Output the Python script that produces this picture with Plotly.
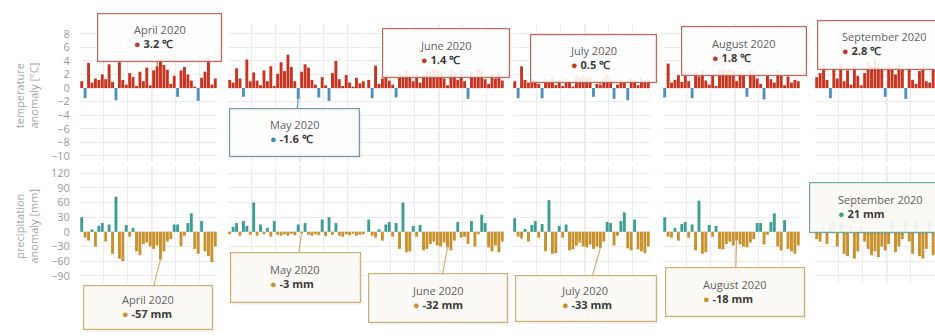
import plotly.graph_objects as go

# ---------------- data ----------------
months = ["April", "May", "June", "July", "August", "September"]
year = 2020

temp_april = [1.0, -1.5, 3.7, 0.8, 1.4, 1.2, 2.0, 1.3, 3.5, 0.9, -1.8, 3.8, 1.2, 0.5, 2.2, 1.6, 0.3, 2.4, 1.0, 3.0,
              0.4, 2.6, 3.2, 4.3, 3.4, 2.7, 0.6, 1.8, -1.3, 2.6, 3.1, 2.0, 1.1, 0.2, -1.9, 1.5, 2.4, 4.4, 0.5, 1.4]
temp_may = [1.2, 0.8, 2.9, 1.4, -1.3, 4.2, 1.0, 2.3, 1.1, 0.4, 2.6, 1.0, 3.2, 0.3, 2.1, 3.8, 2.5, 4.9, 3.1, 1.0,
            -1.6, 2.4, 3.5, 3.0, 1.2, 0.5, -1.4, 1.6, 0.4, -1.9, 2.2, 4.0, 1.3, 0.3, 1.9, 0.8, 0.2, 1.5, 0.7, 1.0]
temp_june = [1.2, -1.5, 3.3, 0.6, 1.4, 2.0, 1.1, 0.5, -1.4, 2.2, 1.8, 2.6, 1.5, 1.0, 2.2, 0.8, 1.9, 2.4, 2.5, 2.8,
             2.6, 2.3, 1.4, 0.4, 2.7, 2.4, 1.2, 2.6, 1.0, -1.6, 2.2, 1.6, 2.8, 2.5, 1.3, 0.6, 2.1, 1.4, 2.0, 1.1]
temp_july = [1.0, -1.5, 3.2, 1.2, 0.8, 1.4, 1.2, 0.6, -1.5, 1.3, 1.0, 1.5, 0.4, 1.2, 0.3, 1.4, 0.9, 0.2, 1.8, 1.6,
             1.9, 1.5, 1.7, -1.3, 0.6, 0.5, 1.6, 1.9, 1.3, -1.6, 0.5, 1.2, 0.9, -1.8, 1.4, 1.1, 0.4, 1.6, 1.2, 1.3]
temp_august = [-1.4, 3.6, 0.8, 1.2, 1.9, 0.9, 2.5, 1.0, -1.5, 2.3, 1.7, 2.6, 1.1, 0.5, 2.0, 0.3, 2.7, 2.9, 2.6, 2.8,
               2.4, 1.0, 2.2, 1.8, -1.3, 2.6, 2.5, 1.4, 0.6, -1.7, 2.0, 1.3, 0.8, 2.6, 1.9, 0.4, 1.7, 0.8, 1.2, 1.0]
temp_september = [1.6, 2.2, 3.4, 1.2, -1.5, 3.0, 1.4, 3.5, 1.0, 2.6, 0.5, 3.3, 1.8, 0.4, 2.2, 3.8, 3.1, 4.2, 3.6, 2.9,
                  -1.3, 3.4, 2.8, 2.0, 3.6, 2.7, -1.6, 3.1, 1.2, 0.6, 2.5, 3.3, 1.0, 0.8, 2.9, 1.9, 3.5, 1.3, 2.2, 1.0]

prec_april = [30, -12, -18, 5, -30, 12, 18, -20, 15, -45, 72, -55, -60, 14, -10, 8, -40, -48, -25, -22,
              -30, -35, -28, -57, -40, -20, -15, 15, 15, -30, -8, 18, 38, -35, -45, 22, -40, -50, -62, -30]
prec_may = [-5, 10, 18, -8, 22, 12, -6, 60, -8, 15, -5, 8, -10, 22, -6, -8, -5, -8, -4, -7,
            15, -3, 18, -6, -8, -5, -7, 25, -9, 30, -6, 18, -8, -10, -5, -7, -4, -8, -6, -5]
prec_june = [25, -8, -12, 5, -18, 15, 20, -10, 18, -35, 60, -42, -40, 12, -10, 14, -38, -35, -25, -20,
             -28, -30, -22, -32, -38, -18, 20, -12, -10, -25, 22, -30, -5, 35, 18, -32, -40, -28, -42, -20]
prec_july = [28, -10, -14, 6, -20, 14, 22, -12, 16, -40, 65, -45, -44, 12, -12, 15, -38, -36, -28, -22,
             -30, -32, -26, -35, -30, -33, -20, 20, 18, -28, -8, 22, 40, -34, -38, 25, -36, -40, -44, -30]
prec_august = [30, -10, -12, 8, -18, 16, 20, -12, 15, -38, 64, -45, -42, 14, -10, 12, -35, -36, -25, -20,
               -28, -18, -26, -30, -32, -22, -15, 18, 18, -26, -6, 20, 38, -30, -38, 24, -35, -40, -45, -28]
prec_september = [-15, -20, 10, -25, 15, 22, -30, 18, -45, -50, 12, -55, -40, 10, -20, -35, -48, -40, -52, -30,
                  -38, -25, 21, -42, -30, -15, 25, -20, -45, 20, -50, -55, -35, 22, -48, -58, -40, -50, -62, -30]

temp_series = [temp_april, temp_may, temp_june, temp_july, temp_august, temp_september]
prec_series = [prec_april, prec_may, prec_june, prec_july, prec_august, prec_september]

temp_tooltip = [3.2, -1.6, 1.4, 0.5, 1.8, 2.8]
prec_tooltip = [-57, -3, -32, -33, -18, 21]
temp_highlight = [22, 20, 22, 25, 23, 22]
prec_highlight = [23, 21, 23, 25, 21, 22]

temp_ticks = [8, 6, 4, 2, 0, -2, -4, -6, -8, -10]
prec_ticks = [120, 90, 60, 30, 0, -30, -60, -90]

# ---------------- layout geometry (pixels) ----------------
W, H = 935, 336
panel_left = [80, 228, 367, 513, 663, 815]
panel_w = 137
n_bars = len(temp_april)
FONT = "Open Sans"

temp_boxes = [(159.5, 37.5, 125, 49), (294.5, 132.5, 131, 49), (446, 53, 128, 50),
              (593.5, 58.5, 127, 49), (744, 51, 126, 50), (884, 45, 134, 50)]
prec_boxes = [(148, 307.5, 130, 45), (295, 277.5, 131, 51), (438, 298, 140, 50),
              (586, 298.5, 142, 47), (735, 292, 140, 50), (880, 207, 142, 51)]

rows = [
    dict(series=temp_series, top=24, bottom=163, rng=[-11.06, 9.44], ticks=temp_ticks,
         pos="#c8341f", neg="#4f8fbf", tt=temp_tooltip, hl=temp_highlight, boxes=temp_boxes,
         unit="℃", fmt="{:.1f}",
         border_pos="#c06a5c", border_neg="#6f9aaa", dot_pos="#c0392b", dot_neg="#4a8ab0",
         bg="rgba(255,255,255,0.9)", title="temperature<br>anomaly [°C]"),
    dict(series=prec_series, top=166, bottom=283, rng=[-105, 135], ticks=prec_ticks,
         pos="#3d9e94", neg="#c8922e", tt=prec_tooltip, hl=prec_highlight, boxes=prec_boxes,
         unit="mm", fmt="{:.0f}",
         border_pos="#6aaaa0", border_neg="#d0b072", dot_pos="#3f9e94", dot_neg="#c8912c",
         bg="rgba(252,251,246,0.92)", title="precipitation<br>anomaly [mm]"),
]

fig = go.Figure()
layout = {}
annotations = []
shapes = []
grid = "#ebebeb"

for r, row in enumerate(rows):
    for k in range(6):
        idx = r * 6 + k + 1
        sfx = "" if idx == 1 else str(idx)
        left = panel_left[k]
        right = min(left + panel_w, W)
        x_hi = -0.5 + n_bars * (right - left) / panel_w
        vals = row["series"][k]
        colors = [row["pos"] if v >= 0 else row["neg"] for v in vals]
        fig.add_trace(go.Bar(
            x=list(range(n_bars)), y=vals, marker_color=colors, marker_line_width=0,
            xaxis=f"x{sfx}", yaxis=f"y{sfx}", hoverinfo="skip", showlegend=False))
        layout[f"xaxis{sfx}"] = dict(
            domain=[left / W, right / W], range=[-0.5, x_hi], anchor=f"y{sfx}",
            showticklabels=False, showgrid=True, gridcolor=grid, gridwidth=1,
            tick0=-0.5, dtick=7, zeroline=False, showline=False, fixedrange=True)
        layout[f"yaxis{sfx}"] = dict(
            domain=[1 - row["bottom"] / H, 1 - row["top"] / H], range=row["rng"], anchor=f"x{sfx}",
            tickmode="array", tickvals=row["ticks"], showticklabels=(k == 0),
            ticks="outside" if k == 0 else "", ticklen=7, tickcolor="rgba(0,0,0,0)",
            tickfont=dict(family=FONT, size=11, color="#9a9a9a"),
            showgrid=True, gridcolor=grid, gridwidth=1, zeroline=False, showline=False,
            fixedrange=True, automargin=False)
        # slightly darker middle vertical grid line
        shapes.append(dict(type="line", xref=f"x{sfx}", yref=f"y{sfx} domain",
                           x0=20.5, x1=20.5, y0=0, y1=1,
                           line=dict(color="#dcdcdc", width=1), layer="below"))

        # tooltip
        v = row["tt"][k]
        hl = row["hl"][k]
        cx, cy, bw, bh = row["boxes"][k]
        px = left + (hl + 0.5) / (x_hi + 0.5) * (right - left)
        rlo, rhi = row["rng"]
        py = row["top"] + (rhi - v) / (rhi - rlo) * (row["bottom"] - row["top"])
        border = row["border_pos"] if v >= 0 else row["border_neg"]
        dot = row["dot_pos"] if v >= 0 else row["dot_neg"]
        # shadow
        annotations.append(dict(
            xref="paper", yref="paper", x=(cx + 2) / W, y=1 - (cy + 2) / H,
            xanchor="center", yanchor="middle", text=" ", showarrow=False,
            width=bw - 2, height=bh - 2, bgcolor="rgba(0,0,0,0.06)",
            bordercolor="rgba(0,0,0,0)", borderwidth=1, borderpad=0))
        # box with pointer
        annotations.append(dict(
            xref=f"x{sfx}", yref=f"y{sfx}", x=hl, y=v, text=" ",
            showarrow=True, ax=cx - px, ay=cy - py, arrowhead=0, arrowwidth=1.2,
            arrowcolor=border, standoff=0,
            width=bw - 2, height=bh - 2, bgcolor=row["bg"],
            bordercolor=border, borderwidth=1.2, borderpad=0))
        # text
        vtxt = row["fmt"].format(v)
        txt = (f"<span style='color:#606060'>{months[k]} {year}</span><br>"
               f"<span style='color:{dot}'>●</span> <b><span style='color:#3a3a3a'>{vtxt} {row['unit']}</span></b>")
        annotations.append(dict(
            xref="paper", yref="paper", x=cx / W, y=1 - (cy - 1) / H,
            xanchor="center", yanchor="middle", align="left", showarrow=False,
            text=txt, font=dict(family=FONT, size=11, color="#505050")))

    # row title
    annotations.append(dict(
        xref="paper", yref="paper", x=26 / W, y=1 - ((row["top"] + row["bottom"]) / 2 + 2) / H,
        xanchor="center", yanchor="middle", textangle=-90, showarrow=False,
        text=row["title"], font=dict(family=FONT, size=11, color="#a5a5a5")))

fig.update_layout(
    width=W, height=H, margin=dict(l=0, r=0, t=0, b=0, pad=0),
    paper_bgcolor="white", plot_bgcolor="white",
    barmode="relative", bargap=0.15, showlegend=False,
    font=dict(family=FONT, size=11, color="#666"),
    annotations=annotations, shapes=shapes, **layout)

fig.write_html("out.html", config={"displayModeBar": False, "staticPlot": True},
               post_script="document.body.style.margin='0';")
